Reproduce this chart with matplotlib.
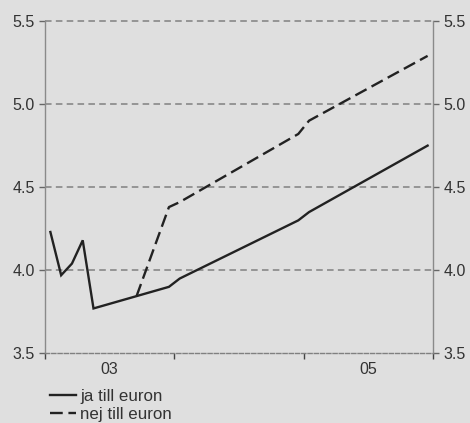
import matplotlib
matplotlib.use("Agg")
import matplotlib.pyplot as plt

# Months counted from January 2003 (0 = Jan 2003) and rate levels, per cent
months_ja = [0, 1, 2, 3, 4, 11, 12, 23, 24, 35]
rate_ja = [4.23, 3.97, 4.04, 4.18, 3.77, 3.90, 3.95, 4.30, 4.35, 4.75]

months_nej = [8, 11, 12, 23, 24, 35]
rate_nej = [3.845, 4.38, 4.41, 4.82, 4.90, 5.29]

series_labels = ["ja till euron", "nej till euron"]
year_labels = ["03", "", "05"]
y_ticks = [3.5, 4.0, 4.5, 5.0, 5.5]

bg = "#dfdfdf"
ink = "#222222"
grid_col = "#808080"
txt_col = "#333333"

plt.rcParams["font.family"] = ["Liberation Sans", "DejaVu Sans"]

fig = plt.figure(figsize=(4.7, 4.23), dpi=100, facecolor=bg)
ax = fig.add_axes([45 / 470, 1 - 353.3 / 423, (433 - 45) / 470, (353.3 - 21) / 423])
ax.set_facecolor(bg)

# month m is drawn at the middle of its slot
x_ja = [m + 0.5 for m in months_ja]
x_nej = [m + 0.5 for m in months_nej]

ax.set_xlim(0, 36)
ax.set_ylim(3.5, 5.5)

# horizontal dashed grid
for yv in y_ticks[1:]:
    ax.axhline(yv, color=grid_col, lw=1.1, linestyle=(0, (4.3, 2.8)), zorder=1, clip_on=False)

l1, = ax.plot(x_ja, rate_ja, color=ink, lw=1.7, solid_joinstyle="miter", zorder=3)
l2, = ax.plot(x_nej, rate_nej, color=ink, lw=1.7, linestyle=(0, (5.4, 2.4)), zorder=3)

ax.spines["top"].set_visible(False)
for side in ["left", "right"]:
    ax.spines[side].set_color("#8a8a8a")
    ax.spines[side].set_linewidth(1.0)
ax.spines["bottom"].set_color(grid_col)
ax.spines["bottom"].set_linewidth(1.0)
ax.spines["bottom"].set_linestyle((0, (3, 1.5)))

ax.set_yticks(y_ticks)
ax.set_yticklabels([f"{v:.1f}" for v in y_ticks])
ax.tick_params(axis="y", which="major", direction="out", length=4.5, width=1.0,
               color="#666666", labelsize=11.5, labelcolor=txt_col, pad=3,
               left=True, right=True, labelleft=True, labelright=True)

# year boundaries as ticks, year labels centred between them
ax.set_xticks([0, 12, 24, 36])
ax.set_xticklabels([])
ax.set_xticks([6, 18, 30], minor=True)
ax.set_xticklabels(year_labels, minor=True)
ax.tick_params(axis="x", which="major", direction="out", length=4, width=1.0, color="#444444")
ax.tick_params(axis="x", which="minor", length=0, labelsize=11.5, labelcolor=txt_col, pad=6.5)

fig.legend([l1, l2], series_labels, loc="upper left",
           bbox_to_anchor=(50 / 470, 1 - 389 / 423), frameon=False,
           fontsize=12.2, handlelength=1.55, handletextpad=0.25,
           labelspacing=0.18, borderpad=0, borderaxespad=0,
           labelcolor=txt_col)

fig.savefig("out.png", dpi=100, facecolor=bg)
